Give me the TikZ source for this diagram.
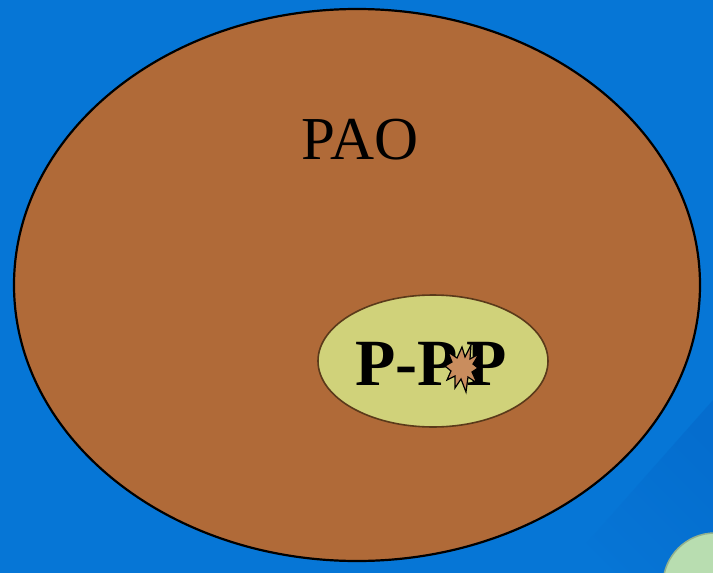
\documentclass[tikz,border=0pt]{standalone}
\usepackage{fontspec}
\setmainfont{Liberation Serif}
\usetikzlibrary{shapes.geometric}
\definecolor{bgblue}{HTML}{0676D6}
\definecolor{bgdark}{HTML}{0566C8}
\definecolor{paobrown}{HTML}{B06A38}
\definecolor{ppgreen}{HTML}{D0D27A}
\definecolor{ppedge}{HTML}{5A3A1A}
\definecolor{burst}{HTML}{C98D5E}
\definecolor{ballgreen}{HTML}{B8DDB0}
\tikzset{
  outer/.style={ellipse, draw=black, line width=2.2pt, fill=paobrown, minimum width=686pt, minimum height=552pt, inner sep=0pt},
  inner/.style={ellipse, draw=ppedge, line width=1.6pt, fill=ppgreen, minimum width=230pt, minimum height=132pt, inner sep=0pt},
  label/.style={font=\fontsize{61}{61}\selectfont, text=black},
  pptext/.style={font=\fontsize{66}{66}\selectfont, inner sep=0pt, anchor=base west}
}
\begin{document}
\begin{tikzpicture}[x=1pt,y=-1pt]
\fill[bgblue] (0,0) rectangle (713,573);
\useasboundingbox (0,0) rectangle (713,573);
\shade[left color=bgblue, right color=bgdark, shading angle=135, opacity=0.5] (713,400) -- (713,573) -- (560,573) -- cycle;
\node[outer] (pao) at (357,285) {};
\node[label] (paot) at (360,140) {PAO};
\node[inner] (pp) at (433,361) {};
\node[pptext, font=\fontsize{66}{66}\selectfont\bfseries] (ppa) at (355,385) {P-P};
\node[pptext, font=\fontsize{66}{66}\selectfont\bfseries] (ppb) at (466,385) {P};
\draw[fill=burst, draw=black, line width=1.2pt]
  (462,347) -- (465,357) -- (471,345) -- (470,359) -- (479,354) -- (473,364)
  -- (478,368) -- (472,372) -- (477,383) -- (468,377) -- (466,392) -- (461,379)
  -- (455,388) -- (455,376) -- (447,380) -- (451,371) -- (445,366) -- (452,362)
  -- (448,352) -- (457,358) -- cycle;
\draw[ballgreen!80!black, line width=1.5pt, fill=ballgreen] (715,585) circle (52);
\end{tikzpicture}
\end{document}
